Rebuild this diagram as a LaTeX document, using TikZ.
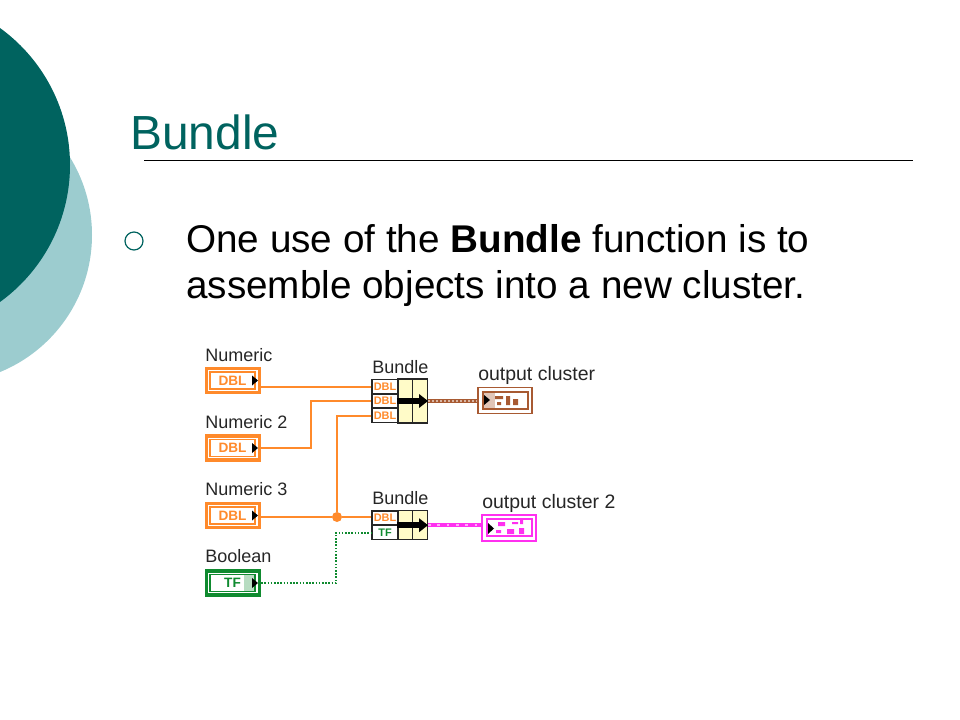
\documentclass[tikz,border=0pt]{standalone}
\usepackage{fontspec}
\setmainfont{Liberation Sans}
\usetikzlibrary{arrows.meta}
\definecolor{slideteal}{HTML}{00635F}
\definecolor{slidepale}{HTML}{9CCCCF}
\definecolor{wireorange}{HTML}{FF8A2B}
\definecolor{wiregreen}{HTML}{0F8A2F}
\definecolor{wirebrown}{HTML}{A85A32}
\definecolor{wirepink}{HTML}{FF30F0}
\definecolor{bundleyellow}{HTML}{FFFBC8}
\definecolor{labelgrey}{HTML}{262626}
\tikzset{
  termout/.style={draw=#1,fill=white,line width=2.4,inner sep=0,minimum width=39.75pt,minimum height=18pt},
  terminner/.style={draw=#1,line width=1.1,inner sep=0,minimum width=33.75pt,minimum height=12.75pt,text=#1,font=\fontsize{10.2}{10.2}\bfseries},
  clusterout/.style={draw=#1,fill=white,line width=1.3,inner sep=0,minimum width=41pt,minimum height=19.5pt},
  clusterin/.style={draw=#1,line width=1.5,inner sep=0,minimum width=33.75pt,minimum height=12.75pt},
  termtip/.style={fill=black},
  port/.style={draw=black!85,fill=white,line width=1.1,inner sep=0,minimum width=19.5pt,minimum height=10.8pt,text=#1,font=\fontsize{8.2}{8.2}\bfseries},
  cell/.style={draw=black!85,fill=bundleyellow,line width=1.1,inner sep=0,minimum width=11pt},
  bundlearrow/.style={line width=4.2,-{Triangle[length=6.75pt,width=10pt]},black},
  wire/.style={draw=#1,line width=1.5},
  smalllabel/.style={anchor=base west,inner sep=0,text=labelgrey,font=\fontsize{13.5}{13.5}\selectfont},
  outlabel/.style={anchor=base west,inner sep=0,text=labelgrey,font=\fontsize{14.6}{14.6}\selectfont}
}
\begin{document}
\begin{tikzpicture}[x=0.75pt,y=0.75pt,yscale=-1,xscale=1]
	\useasboundingbox (0,0) rectangle (960,720);
	% slide background
	\fill [slidepale] (-56,235) circle [radius=148];
	\fill [slideteal] (-99,165) circle [radius=169];
	\node (title) [anchor=base west,inner sep=0,text=slideteal,font=\fontsize{35.9}{35.9}\selectfont] at (130,150) {Bundle};
	\coordinate (ruleL) at (144,160.5);
	\coordinate (ruleR) at (913,160.5);
	\draw [line width=0.75] (ruleL) -- (ruleR);
	\draw [slideteal,line width=0.9] (134,241) circle [radius=9];
	\node (body) [anchor=north west,inner sep=0,align=left,font=\fontsize{29}{34.5}\selectfont] at (186,224) {One use of the \textbf{Bundle} function is to\\assemble objects into a new cluster.};
	% labels
	\node (lnum1) [smalllabel] at (205,361) {Numeric};
	\node (lnum2) [smalllabel] at (205,428) {Numeric 2};
	\node (lnum3) [smalllabel] at (205,495) {Numeric 3};
	\node (lbool) [smalllabel] at (205,562) {Boolean};
	\node (lbun1) [smalllabel] at (372,373) {Bundle};
	\node (lbun2) [smalllabel] at (372,504) {Bundle};
	\node (lout1) [outlabel] at (478,380) {output cluster};
	\node (lout2) [outlabel] at (482,508) {output cluster 2};
	% input terminals
	\node (num1) [termout=wireorange] at (233,380.5) {};
	\node (num1in) [terminner=wireorange] at (232.5,380.5) {DBL};
	\fill [termtip] (252,375.5) -- (258,380.5) -- (252,385.5) -- cycle;
	\node (num2) [termout=wireorange] at (233,448) {};
	\node (num2in) [terminner=wireorange] at (232.5,448) {DBL};
	\fill [termtip] (252,443) -- (258,448) -- (252,453) -- cycle;
	\node (num3) [termout=wireorange] at (233,515.5) {};
	\node (num3in) [terminner=wireorange] at (232.5,515.5) {DBL};
	\fill [termtip] (252,510.5) -- (258,515.5) -- (252,520.5) -- cycle;
	\node (bool) [termout=wiregreen] at (233,583) {};
	\fill [wiregreen!30] (244,575) rectangle (255,591);
	\node (boolin) [terminner=wiregreen] at (232.5,583) {TF};
	\fill [termtip] (252,578) -- (258,583) -- (252,588) -- cycle;
	% first bundle
	\node (bun1a) [port=wireorange] at (385,386.5) {DBL};
	\node (bun1b) [port=wireorange] at (385,401) {DBL};
	\node (bun1c) [port=wireorange] at (385,415.5) {DBL};
	\node (bun1x) [cell,minimum height=33pt] at (405.5,401) {};
	\node (bun1y) [cell,minimum height=33pt] at (420,401) {};
	\draw [bundlearrow] (bun1x.west) -- (bun1y.east);
	% second bundle
	\node (bun2a) [port=wireorange] at (385,518) {DBL};
	\node (bun2b) [port=wiregreen] at (385,532.5) {TF};
	\node (bun2x) [cell,minimum height=21.8pt] at (405.5,525.2) {};
	\node (bun2y) [cell,minimum height=21.8pt] at (420,525.2) {};
	\draw [bundlearrow] (bun2x.west) -- (bun2y.east);
	% output clusters
	\node (out1) [clusterout=wirebrown] at (505,400.5) {};
	\fill [wirebrown!35] (483,392) rectangle (495,409);
	\node (out1in) [clusterin=wirebrown] at (505.5,400.5) {};
	\fill [termtip] (484,395) -- (490,400) -- (484,405) -- cycle;
	\fill [wirebrown] (495,396) rectangle (503,399) (497,402) rectangle (501,405) (506,396) rectangle (510,405) (513,399) rectangle (518,405);
	\node (out2) [clusterout=wirepink] at (509,528) {};
	\node (out2in) [clusterin=wirepink] at (509,527.5) {};
	\fill [termtip] (488,523) -- (494,528.5) -- (488,534) -- cycle;
	\fill [wirepink] (498,522) rectangle (505,526) (512,522) rectangle (518,524) (520,520) rectangle (523,524) (496,530) rectangle (501,533) (507,529) rectangle (514,534) (519,528) rectangle (524,534);
	% wires
	\coordinate (num2bend) at (311,425);
	\coordinate (boolbend) at (336,560);
	\node (jct) [circle,fill=wireorange,inner sep=0,minimum size=7.5] at (337,517) {};
	\draw [wire=wireorange] (num1.east |- bun1a.west) -- (bun1a.west);
	\draw [wire=wireorange] (num2.east) -| (num2bend) |- (bun1b.west);
	\draw [wire=wireorange] (bun1c.west) -| (jct);
	\draw [wire=wireorange] (num3.east |- jct) -- (jct) -- (jct -| bun2a.west);
	\draw [wire=wiregreen,dash pattern=on 1.2pt off 1.2pt] (bool.east) -| (boolbend) |- (bun2b.west);
	\draw [wirebrown,line width=3] (bun1y.east) -- (out1.west |- bun1y.east);
	\draw [wirebrown!45,line width=1,dash pattern=on 1.5pt off 1.5pt] (bun1y.east) -- (out1.west |- bun1y.east);
	\draw [wirepink,line width=3] (bun2y.east) -- (out2.west |- bun2y.east);
	\draw [white!60!wirepink,line width=1.2,dash pattern=on 2pt off 5pt] (bun2y.east) -- (out2.west |- bun2y.east);
\end{tikzpicture}
\end{document}
